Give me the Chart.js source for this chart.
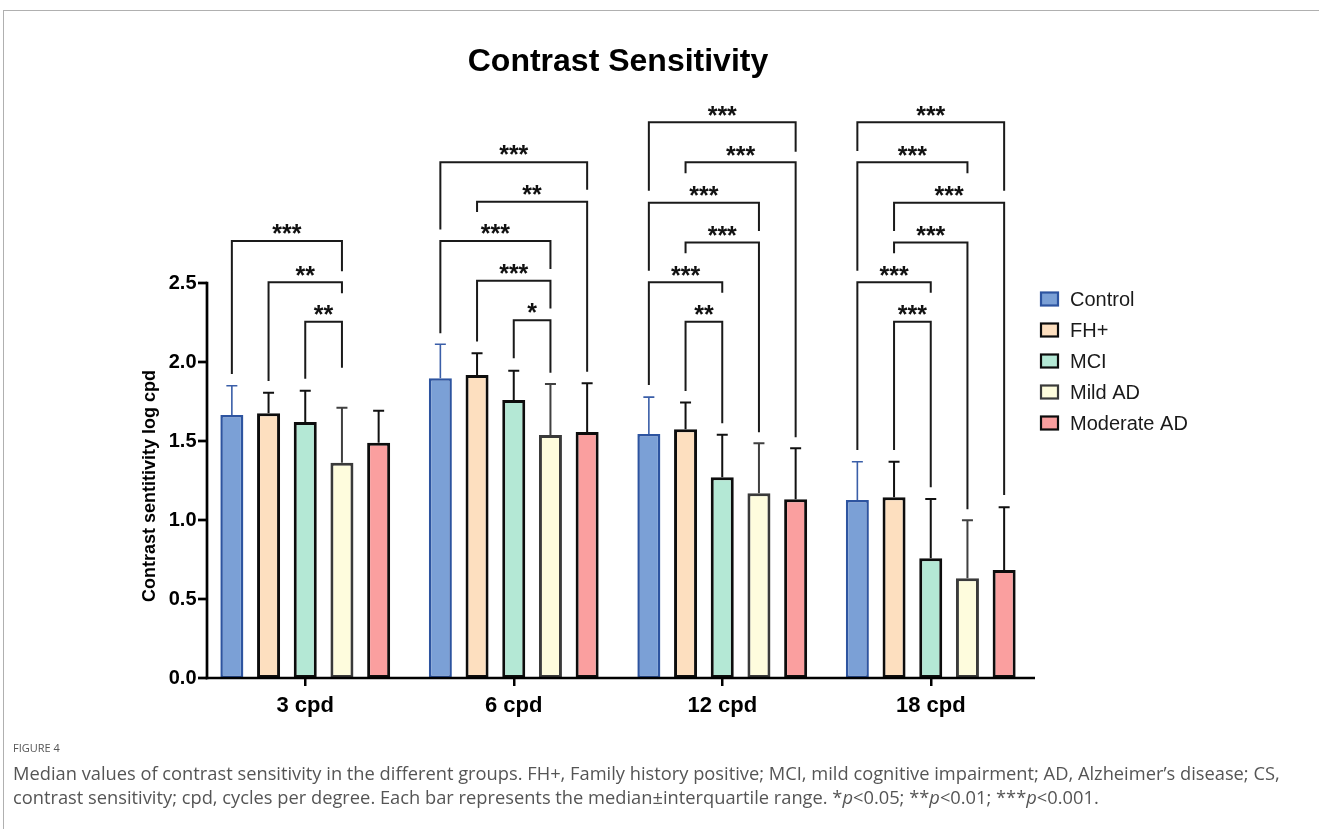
<!DOCTYPE html>
<html>
<head>
<meta charset="utf-8">
<script src="https://cdn.jsdelivr.net/npm/chart.js@4.4.1/dist/chart.umd.min.js"></script>
<style>
  html, body { margin: 0; padding: 0; background: #fff; width: 1319px; height: 829px; overflow: hidden; }
  #frame { position: absolute; left: 3px; top: 10px; right: 0; bottom: 0; border-top: 1px solid #b0b0b0; border-left: 1px solid #b0b0b0; }
  #chart { position: absolute; left: 0; top: 0; }
  #figlabel { position: absolute; left: 13px; top: 740px; font: 11px 'Open Sans', sans-serif; color: #555; }
  #caption { position: absolute; left: 13px; top: 761px; font: 18.3px/24px 'Open Sans', sans-serif; color: #555; white-space: nowrap; }
</style>
</head>
<body>
<div id="frame"></div>
<canvas id="chart" width="1319" height="829"></canvas>
<div id="figlabel">FIGURE 4</div>
<div id="caption">Median values of contrast sensitivity in the different groups. FH+, Family history positive; MCI, mild cognitive impairment; AD, Alzheimer’s disease; CS,<br>contrast sensitivity; cpd, cycles per degree. Each bar represents the median±interquartile range. *<i>p</i>&lt;0.05; **<i>p</i>&lt;0.01; ***<i>p</i>&lt;0.001.</div>
<script>
// ---- data ----
const categories = ['3 cpd', '6 cpd', '12 cpd', '18 cpd'];
const seriesNames = ['Control', 'FH+', 'MCI', 'Mild AD', 'Moderate AD'];
const control  = [1.665, 1.897, 1.544, 1.127];
const fhPos    = [1.675, 1.918, 1.574, 1.144];
const mci      = [1.620, 1.759, 1.270, 0.758];
const mildAD   = [1.363, 1.538, 1.169, 0.631];
const modAD    = [1.489, 1.557, 1.131, 0.684];
// upper end of interquartile range
const controlUpper = [1.850, 2.112, 1.778, 1.369];
const fhPosUpper   = [1.806, 2.055, 1.743, 1.369];
const mciUpper     = [1.818, 1.945, 1.540, 1.133];
const mildADUpper  = [1.711, 1.861, 1.485, 0.998];
const modADUpper   = [1.692, 1.865, 1.454, 1.080];
const yTickValues = [0, 0.5, 1.0, 1.5, 2.0, 2.5];
// significance brackets: [category, fromSeries, toSeries, level, leftLegEnd, rightLegEnd, label]
const brackets = [
  [0, 0, 3, 2.766, 1.924, 2.575, '***'],
  [0, 1, 3, 2.504, 1.880, 2.435, '**'],
  [0, 2, 3, 2.255, 1.894, 1.964, '**'],
  [1, 0, 4, 3.265, 2.838, 3.090, '***'],
  [1, 1, 4, 3.015, 2.949, 1.939, '**'],
  [1, 0, 3, 2.766, 2.182, 2.589, '***'],
  [1, 1, 3, 2.515, 2.129, 2.339, '***'],
  [1, 2, 3, 2.265, 2.023, 1.932, '*'],
  [2, 0, 4, 3.517, 3.084, 3.331, '***'],
  [2, 1, 4, 3.264, 3.194, 1.523, '***'],
  [2, 0, 3, 3.008, 2.578, 2.829, '***'],
  [2, 1, 3, 2.757, 2.688, 1.555, '***'],
  [2, 0, 2, 2.504, 1.854, 2.439, '***'],
  [2, 1, 2, 2.255, 1.816, 1.612, '**'],
  [3, 0, 4, 3.517, 3.335, 3.084, '***'],
  [3, 0, 3, 3.264, 2.578, 3.194, '***'],
  [3, 1, 4, 3.008, 2.829, 1.158, '***'],
  [3, 1, 3, 2.757, 2.688, 1.068, '***'],
  [3, 0, 2, 2.504, 1.443, 2.439, '***'],
  [3, 1, 2, 2.255, 1.443, 1.207, '***']
];

// ---- styles ----
const values = [control, fhPos, mci, mildAD, modAD];
const uppers = [controlUpper, fhPosUpper, mciUpper, mildADUpper, modADUpper];
const fills = ['#7ba0d6', '#fddfbf', '#b4e8d5', '#fefcdd', '#fa9f9f'];
const borders = ['#2d54a0', '#0d0d0d', '#0d0d0d', '#3a3a3a', '#0d0d0d'];
const borderW = [2.5, 3, 3, 3, 3];
const errColors = ['#3a5ea8', '#111111', '#111111', '#404040', '#111111'];
const errW = [1.6, 2, 2, 2, 2];
const FONT = "'Liberation Sans', Arial, Helvetica, sans-serif";
Chart.defaults.font.family = FONT;

const annot = {
  id: 'annot',
  afterDatasetsDraw(chart) {
    const ctx = chart.ctx, ys = chart.scales.y;
    // error bars
    uppers.forEach((arr, i) => {
      const meta = chart.getDatasetMeta(i);
      ctx.save();
      ctx.strokeStyle = errColors[i];
      ctx.lineWidth = errW[i];
      arr.forEach((v, j) => {
        const b = meta.data[j];
        const yt = ys.getPixelForValue(v);
        ctx.beginPath();
        ctx.moveTo(b.x, b.y);
        ctx.lineTo(b.x, yt);
        ctx.moveTo(b.x - 5.5, yt);
        ctx.lineTo(b.x + 5.5, yt);
        ctx.stroke();
      });
      ctx.restore();
    });
    // brackets
    ctx.save();
    ctx.strokeStyle = '#1a1a1a';
    ctx.lineWidth = 2;
    ctx.lineJoin = 'miter';
    ctx.fillStyle = '#111';
    ctx.font = 'bold 25px ' + FONT;
    ctx.textAlign = 'center';
    brackets.forEach(([g, a, b, lvl, la, lb, txt]) => {
      const x1 = chart.getDatasetMeta(a).data[g].x;
      const x2 = chart.getDatasetMeta(b).data[g].x;
      const yl = ys.getPixelForValue(lvl);
      ctx.beginPath();
      ctx.moveTo(x1, ys.getPixelForValue(la));
      ctx.lineTo(x1, yl);
      ctx.lineTo(x2, yl);
      ctx.lineTo(x2, ys.getPixelForValue(lb));
      ctx.stroke();
      const m = ctx.measureText(txt);
      const yc = yl - 11.7;
      const yb = yc + (m.actualBoundingBoxAscent - m.actualBoundingBoxDescent) / 2;
      ctx.fillText(txt, (x1 + x2) / 2, yb);
    });
    ctx.restore();
  },
  afterDraw(chart) {
    const ctx = chart.ctx, ys = chart.scales.y, xs = chart.scales.x;
    const y0 = ys.getPixelForValue(0);
    const yTop = ys.getPixelForValue(2.5);
    const ax = 207;
    ctx.save();
    ctx.strokeStyle = '#000';
    ctx.lineWidth = 2.7;
    ctx.lineCap = 'butt';
    // y axis line
    ctx.beginPath();
    ctx.moveTo(ax, y0 + 1.35);
    ctx.lineTo(ax, yTop - 1.35);
    ctx.stroke();
    // y tick marks
    yTickValues.forEach(v => {
      const yy = ys.getPixelForValue(v);
      ctx.beginPath();
      ctx.moveTo(ax - 9, yy);
      ctx.lineTo(ax, yy);
      ctx.stroke();
    });
    // x axis line
    ctx.beginPath();
    ctx.moveTo(ax - 1.35, y0);
    ctx.lineTo(xs.right, y0);
    ctx.stroke();
    ctx.restore();

    // y axis title
    ctx.save();
    ctx.translate(150.5, 486);
    ctx.rotate(-Math.PI / 2);
    ctx.font = 'bold 18px ' + FONT;
    ctx.fillStyle = '#000';
    ctx.textAlign = 'center';
    ctx.textBaseline = 'middle';
    ctx.fillText('Contrast sentitivity log cpd', 0, 0);
    ctx.restore();

    // legend
    ctx.save();
    ctx.font = '20px ' + FONT;
    ctx.textBaseline = 'middle';
    ctx.textAlign = 'left';
    seriesNames.forEach((name, i) => {
      const yc = 299 + i * 31;
      ctx.fillStyle = fills[i];
      ctx.fillRect(1041, yc - 6.5, 17, 13);
      ctx.strokeStyle = borders[i];
      ctx.lineWidth = 2.2;
      ctx.strokeRect(1041, yc - 6.5, 17, 13);
      ctx.fillStyle = '#1a1a1a';
      ctx.fillText(name, 1070, yc + 1);
    });
    ctx.restore();
  }
};

new Chart(document.getElementById('chart'), {
  type: 'bar',
  data: {
    labels: categories,
    datasets: seriesNames.map((name, i) => ({
      label: name,
      data: values[i],
      backgroundColor: fills[i],
      borderColor: borders[i],
      borderWidth: borderW[i],
      borderSkipped: false,
      categoryPercentage: 0.88,
      barPercentage: 0.627
    }))
  },
  options: {
    responsive: false,
    devicePixelRatio: 1,
    animation: false,
    layout: { padding: { left: 0, right: 284, top: 0, bottom: 109 } },
    plugins: {
      legend: { display: false },
      tooltip: { enabled: false },
      title: {
        display: true,
        text: 'Contrast Sensitivity',
        color: '#000',
        fullSize: false,
        font: { size: 32, weight: 'bold', family: FONT },
        padding: { top: 43.2, bottom: 3.9 }
      }
    },
    scales: {
      x: {
        type: 'category',
        offset: true,
        grid: { display: true, drawOnChartArea: false, drawTicks: true, tickLength: 8, offset: false, color: '#000', lineWidth: 2.5 },
        border: { display: false },
        ticks: { color: '#000', font: { size: 22, weight: 'bold', family: FONT }, padding: 7, maxRotation: 0 },
        afterFit: s => { s.height = 42; }
      },
      y: {
        min: 0,
        max: 3.75,
        grid: { display: false, drawTicks: false },
        border: { display: false },
        afterBuildTicks: s => { s.ticks = yTickValues.map(v => ({ value: v })); },
        ticks: { color: '#000', font: { size: 20, weight: 'bold', family: FONT }, padding: 4.5, callback: v => Number(v).toFixed(1) },
        afterFit: s => { s.width = 201; }
      }
    }
  },
  plugins: [annot]
});
</script>
</body>
</html>
